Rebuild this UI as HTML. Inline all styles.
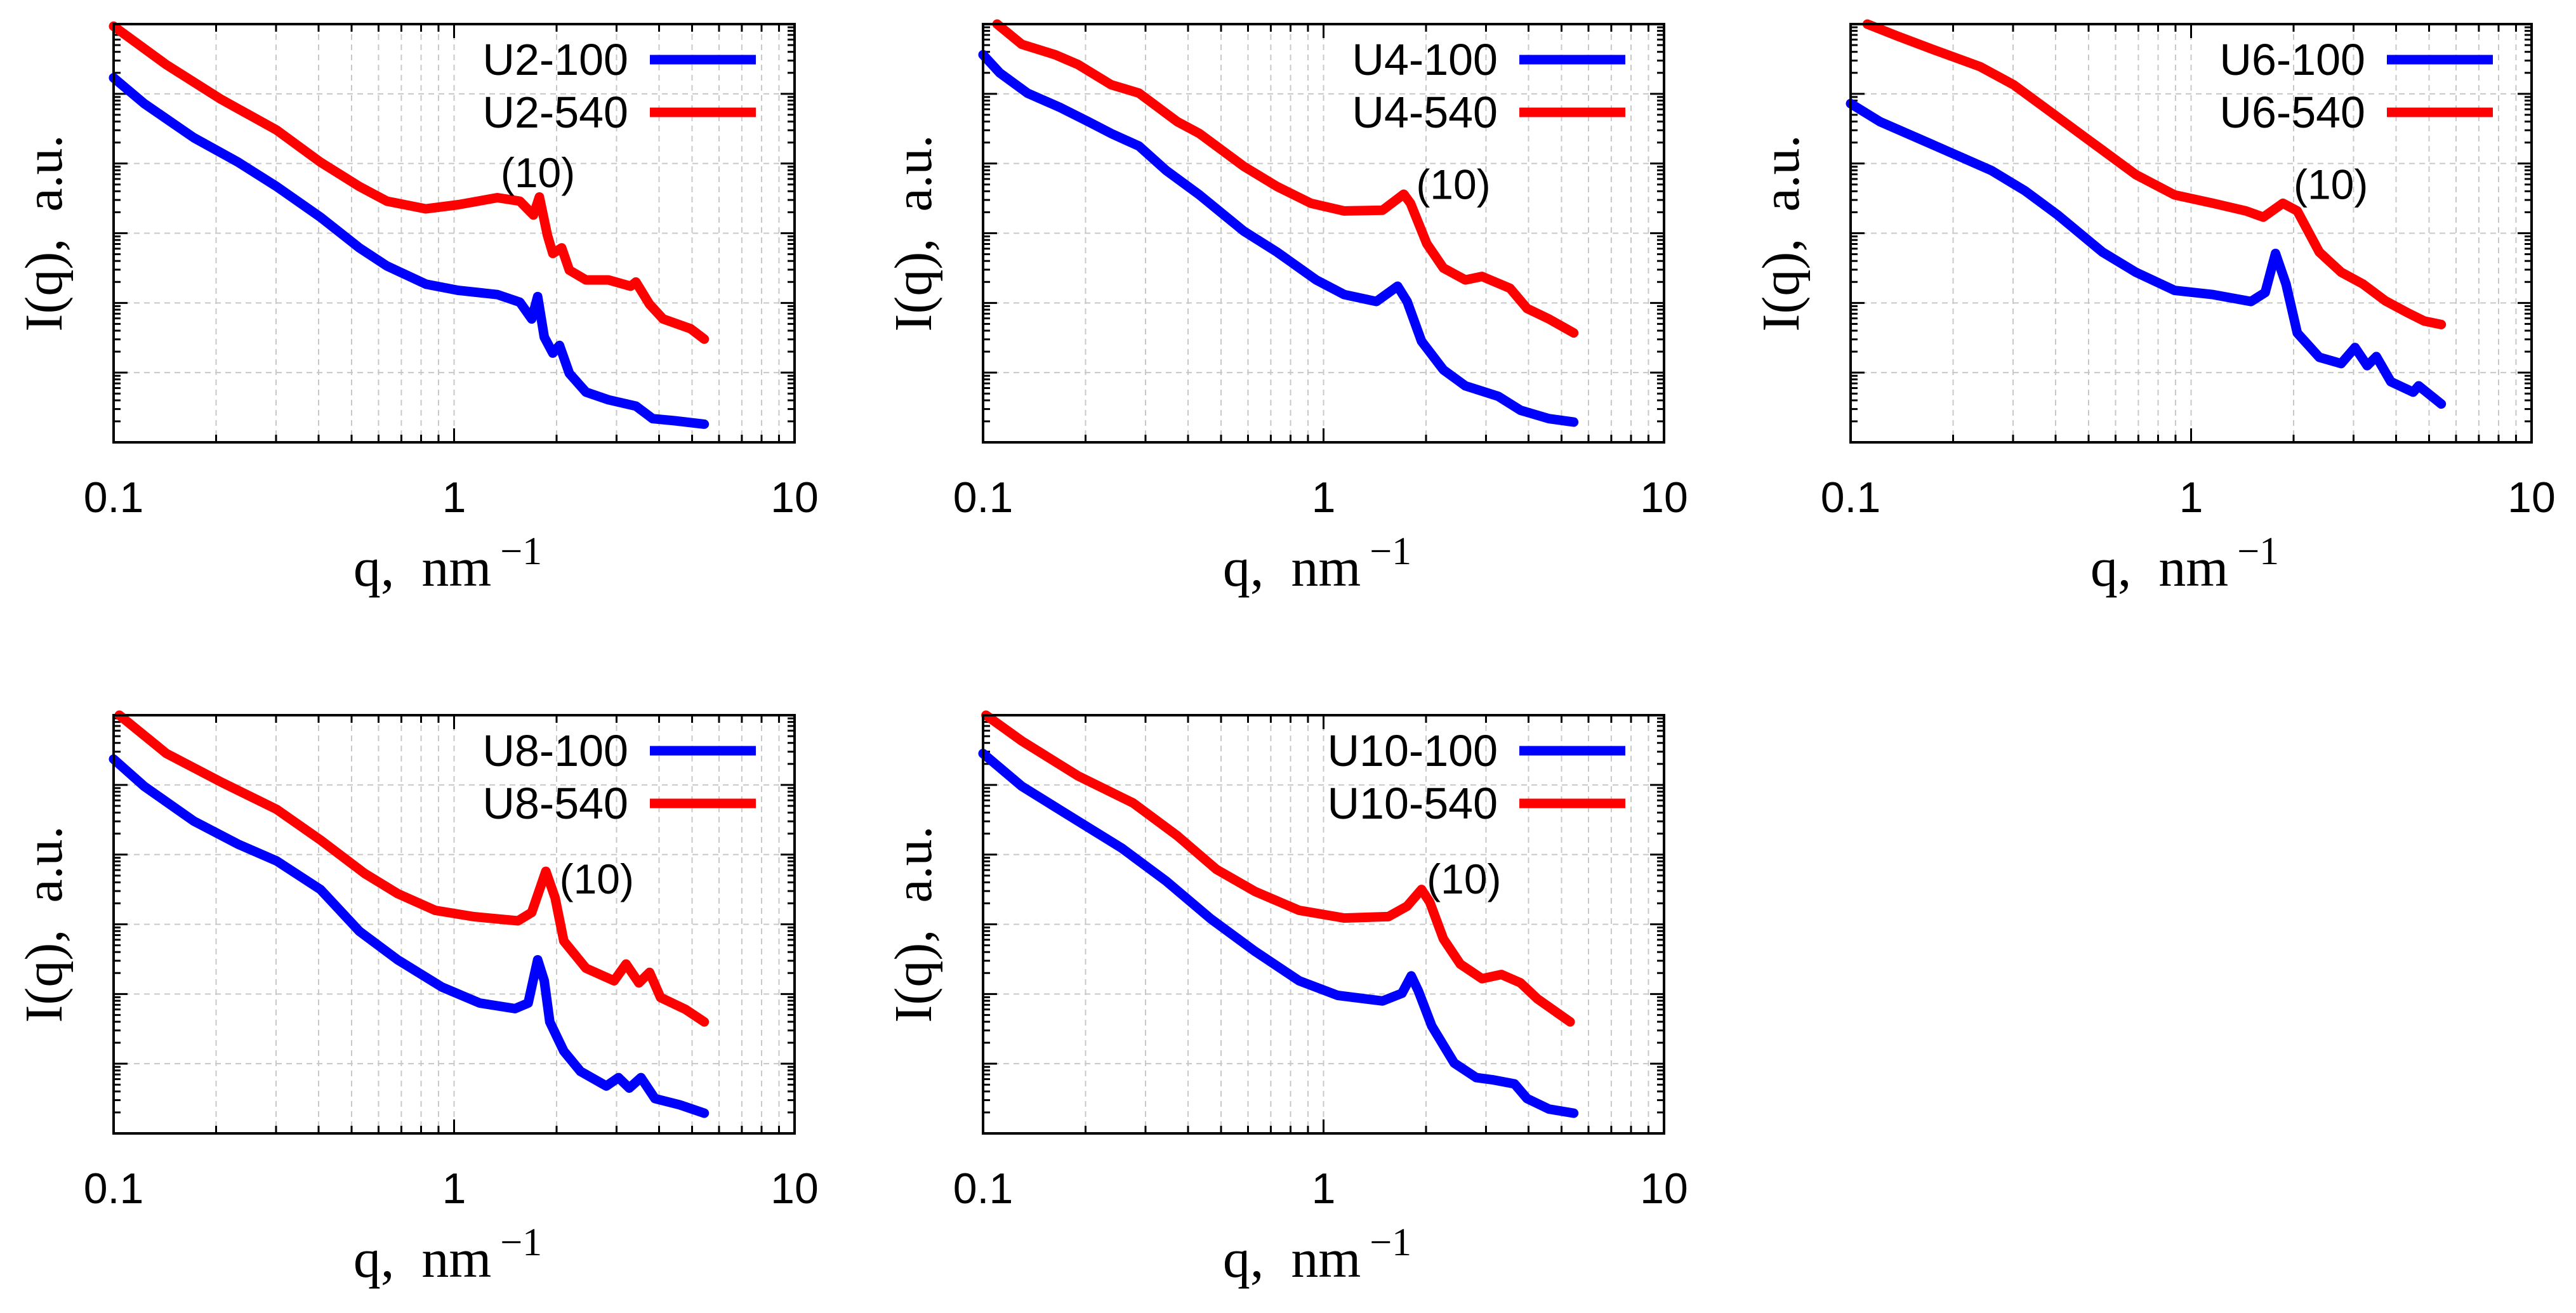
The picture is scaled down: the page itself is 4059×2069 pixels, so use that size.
<!DOCTYPE html>
<html><head><meta charset="utf-8"><style>
html,body{margin:0;padding:0;background:#fff;}
svg{display:block;}
</style></head><body>
<svg id="fig" width="4059" height="2069" viewBox="0 0 4059 2069" xmlns="http://www.w3.org/2000/svg"></svg>
<script>
// ---- data: q (nm^-1) and log10 I (a.u.) per series ----
const panelNames = ["U2","U4","U6","U8","U10"];
const xTickLabels = ["0.1","1","10"];
const q_U2_100 = [0.1,0.123,0.172,0.232,0.301,0.405,0.527,0.635,0.826,1.03,1.34,1.56,1.69,1.76,1.84,1.95,2.04,2.18,2.44,2.84,3.42,3.83,4.45,5.43];
const l_U2_100 = [5.23,4.86,4.37,4.02,3.67,3.23,2.79,2.53,2.27,2.18,2.12,2.01,1.77,2.09,1.51,1.28,1.39,0.99,0.72,0.61,0.52,0.34,0.31,0.26];
const q_U2_540 = [0.1,0.1426,0.207,0.301,0.405,0.527,0.635,0.826,1.03,1.34,1.56,1.71,1.78,1.88,1.95,2.07,2.18,2.44,2.84,3.30,3.42,3.75,4.11,4.95,5.43];
const l_U2_540 = [5.97,5.42,4.92,4.48,4.02,3.67,3.46,3.35,3.41,3.51,3.46,3.26,3.52,2.97,2.71,2.79,2.47,2.33,2.33,2.24,2.30,1.98,1.77,1.63,1.48];
const q_U4_100 = [0.1,0.112,0.135,0.169,0.204,0.238,0.287,0.345,0.432,0.583,0.730,0.952,1.15,1.43,1.65,1.76,1.94,2.25,2.61,3.26,3.79,4.59,5.43];
const l_U4_100 = [5.56,5.30,5.01,4.80,4.60,4.43,4.25,3.90,3.55,3.03,2.73,2.33,2.12,2.02,2.24,2.02,1.45,1.04,0.81,0.66,0.46,0.34,0.29];
const q_U4_540 = [0.11,0.130,0.163,0.190,0.238,0.287,0.372,0.432,0.583,0.730,0.918,1.15,1.49,1.72,1.80,2.01,2.25,2.61,2.92,3.53,3.96,4.59,5.43];
const l_U4_540 = [6.0,5.71,5.56,5.42,5.13,5.01,4.60,4.43,3.96,3.67,3.43,3.32,3.33,3.56,3.43,2.85,2.50,2.33,2.38,2.21,1.92,1.77,1.57];
const q_U6_100 = [0.1,0.122,0.178,0.259,0.325,0.406,0.549,0.688,0.894,1.16,1.5,1.65,1.77,1.90,2.05,2.38,2.76,3.03,3.29,3.5,3.86,4.49,4.66,5.43];
const l_U6_100 = [4.86,4.60,4.25,3.90,3.61,3.26,2.73,2.44,2.18,2.12,2.02,2.15,2.71,2.27,1.57,1.22,1.13,1.36,1.10,1.23,0.87,0.72,0.81,0.55];
const q_U6_540 = [0.112,0.137,0.178,0.240,0.301,0.377,0.509,0.688,0.894,1.16,1.45,1.63,1.86,2.05,2.38,2.76,3.2,3.72,4.32,4.84,5.43];
const l_U6_540 = [6.0,5.83,5.62,5.39,5.13,4.78,4.31,3.84,3.55,3.43,3.32,3.23,3.43,3.32,2.73,2.44,2.27,2.03,1.86,1.74,1.69];
const q_U8_100 = [0.1,0.123,0.172,0.232,0.301,0.405,0.527,0.683,0.92,1.19,1.51,1.65,1.76,1.84,1.91,2.1,2.35,2.80,3.04,3.27,3.54,3.89,4.6,5.43];
const l_U8_100 = [5.37,4.98,4.48,4.15,3.91,3.50,2.90,2.49,2.10,1.87,1.79,1.87,2.49,2.19,1.60,1.18,0.89,0.68,0.80,0.65,0.80,0.50,0.41,0.29];
const q_U8_540 = [0.104,0.143,0.207,0.301,0.405,0.546,0.683,0.88,1.14,1.54,1.69,1.86,1.98,2.1,2.44,2.95,3.2,3.49,3.75,4.04,4.78,5.43];
const l_U8_540 = [6.0,5.45,5.04,4.65,4.21,3.73,3.44,3.2,3.11,3.05,3.17,3.76,3.38,2.76,2.37,2.19,2.43,2.16,2.31,1.95,1.78,1.60];
const q_U10_100 = [0.1,0.130,0.190,0.256,0.345,0.466,0.630,0.848,1.10,1.49,1.70,1.81,1.90,2.08,2.42,2.81,3.13,3.64,3.96,4.59,5.43];
const l_U10_100 = [5.45,4.98,4.48,4.09,3.62,3.08,2.61,2.19,1.98,1.90,2.01,2.26,2.04,1.54,1.01,0.80,0.77,0.71,0.50,0.35,0.29];
const q_U10_540 = [0.102,0.130,0.190,0.276,0.372,0.484,0.630,0.848,1.15,1.55,1.76,1.94,2.05,2.25,2.52,2.92,3.33,3.79,4.25,5.3];
const l_U10_540 = [6.0,5.63,5.13,4.74,4.27,3.79,3.47,3.20,3.09,3.11,3.26,3.50,3.32,2.79,2.43,2.22,2.28,2.16,1.93,1.60];
const seriesQ100 = [q_U2_100,q_U4_100,q_U6_100,q_U8_100,q_U10_100];
const seriesL100 = [l_U2_100,l_U4_100,l_U6_100,l_U8_100,l_U10_100];
const seriesQ540 = [q_U2_540,q_U4_540,q_U6_540,q_U8_540,q_U10_540];
const seriesL540 = [l_U2_540,l_U4_540,l_U6_540,l_U8_540,l_U10_540];
const peakLabelQ = [1.37,1.87,2.0,2.04,2.01];
const peakLabelL = [3.87,3.70,3.70,3.65,3.65];

// ---- layout ----
const panelLeft = [179,1549,2916,179,1549];
const panelTop = [38,38,38,1127,1127];
const PW = 1073, PH = 659;
const xMinLog = -1, xMaxLog = 1, yMinLog = 0, yMaxLog = 6;
const NS = "http://www.w3.org/2000/svg";
const svg = document.getElementById('fig');
function mk(tag, attrs, parent){const e=document.createElementNS(NS,tag);for(const k in attrs)e.setAttribute(k,attrs[k]);(parent||svg).appendChild(e);return e;}

panelNames.forEach((nm,i)=>{
  const L=panelLeft[i], T=panelTop[i], R=L+PW, B=T+PH;
  const X = q => L + (Math.log10(q)-xMinLog)/(xMaxLog-xMinLog)*PW;
  const Y = l => B - (l-yMinLog)/(yMaxLog-yMinLog)*PH;
  const g = mk('g',{});
  
  
  // grid
  const grid = mk('g',{stroke:'#c8c8c8','stroke-width':2,'stroke-dasharray':'9,7',fill:'none'},g);
  
  
  for(let d=xMinLog; d<xMaxLog; d++){
    for(let m=1;m<=9;m++){
      const x = X(m*Math.pow(10,d));
      if(m>1||d>xMinLog) mk('line',{x1:x,y1:T,x2:x,y2:B},grid);
    }
  }
  for(let e=yMinLog+1;e<yMaxLog;e++){ mk('line',{x1:L,y1:Y(e),x2:R,y2:Y(e)},grid); }
  // ticks
  const tk = mk('g',{stroke:'#000','stroke-width':3},g);
  
  
  for(let d=xMinLog; d<xMaxLog; d++){
    for(let m=1;m<=9;m++){
      const x = X(m*Math.pow(10,d)); const len = m===1?22:12;
      mk('line',{x1:x,y1:B,x2:x,y2:B-len},tk); mk('line',{x1:x,y1:T,x2:x,y2:T+len},tk);
    }
  }
  for(let e=yMinLog;e<yMaxLog;e++){
    for(let m=1;m<=9;m++){
      const y = Y(e+Math.log10(m)); const len = m===1?22:11;
      mk('line',{x1:L,y1:y,x2:L+len,y2:y},tk); mk('line',{x1:R,y1:y,x2:R-len,y2:y},tk);
    }
  }
  // series
  function drawSeries(qs, ls, color, name){
    let d=''; qs.forEach((q,k)=>{ d += (k?'L':'M') + X(q).toFixed(1)+','+Y(ls[k]).toFixed(1); });
    const p = mk('path',{d:d,fill:'none',stroke:color,'stroke-width':15,'stroke-linejoin':'round','stroke-linecap':'round'},g);
    
    
  }
  drawSeries(seriesQ540[i], seriesL540[i], '#ff0000', 'series-'+nm.toLowerCase()+'-540');
  drawSeries(seriesQ100[i], seriesL100[i], '#0000ff', 'series-'+nm.toLowerCase()+'-100');
  // frame
  const fr = mk('rect',{x:L,y:T,width:PW,height:PH,fill:'none',stroke:'#000','stroke-width':4},g);
  
  
  // x tick labels
  xTickLabels.forEach((t,k)=>{
    const tx = mk('text',{x:X(Math.pow(10,xMinLog+k)),y:B+110,'text-anchor':'middle','font-family':'Liberation Sans, sans-serif','font-size':68,fill:'#000'},g);
    tx.textContent=t;
    
    
  });
  // x title
  const xt = mk('text',{x:L+PW/2-10,y:B+226,'text-anchor':'middle','font-family':'Liberation Serif, serif','font-size':86,fill:'#000'},g);
  
  
  xt.innerHTML = 'q,&#160;&#160;nm<tspan dx="14" dy="-34" font-size="62">−1</tspan>';
  // y title
  const yt = mk('text',{x:0,y:0,transform:`translate(${L-82},${(T+B)/2}) rotate(-90)`,'text-anchor':'middle','font-family':'Liberation Serif, serif','font-size':84,fill:'#000'},g);
  
  
  yt.innerHTML = 'I(q),&#160;&#160;a.u.';
  // legend
  [['-100','#0000ff',56],['-540','#ff0000',139]].forEach(([suf,col,dy])=>{
    const lt = mk('text',{x:R-262,y:T+dy,'text-anchor':'end','dominant-baseline':'central','font-family':'Liberation Sans, sans-serif','font-size':70,fill:'#000'},g);
    lt.textContent = nm+suf;
    
    
    const ll = mk('line',{x1:R-228,y1:T+dy,x2:R-61,y2:T+dy,stroke:col,'stroke-width':15},g);
    
    
  });
  // peak label
  const pk = mk('text',{x:X(peakLabelQ[i]),y:Y(peakLabelL[i]),'dominant-baseline':'central','font-family':'Liberation Sans, sans-serif','font-size':66,fill:'#000'},g);
  pk.textContent='(10)';
  
  
});
</script>
</body></html>
